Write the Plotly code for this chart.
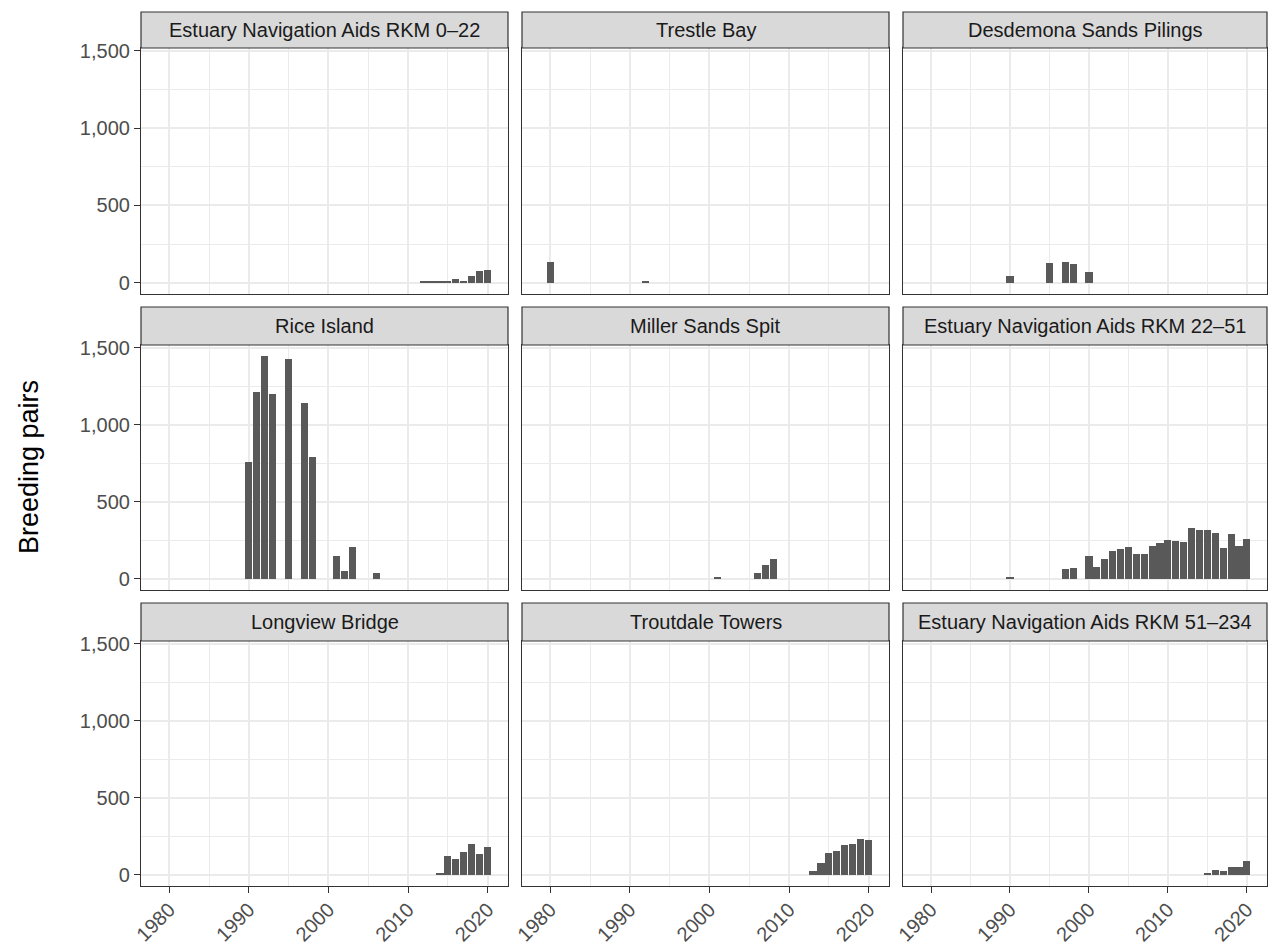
import plotly.graph_objects as go

# ---------------- data (breeding pairs by year) ----------------
site_names = [
    "Estuary Navigation Aids RKM 0–22", "Trestle Bay", "Desdemona Sands Pilings",
    "Rice Island", "Miller Sands Spit", "Estuary Navigation Aids RKM 22–51",
    "Longview Bridge", "Troutdale Towers", "Estuary Navigation Aids RKM 51–234",
]

rkm0_22_years = [2012, 2013, 2014, 2015, 2016, 2017, 2018, 2019, 2020]
rkm0_22_pairs = [12, 10, 6, 6, 22, 9, 42, 75, 85]

trestle_years = [1980, 1992]
trestle_pairs = [134, 15]

desdemona_years = [1990, 1995, 1997, 1998, 2000]
desdemona_pairs = [43, 127, 134, 123, 67]

rice_years = [1990, 1991, 1992, 1993, 1995, 1997, 1998, 2001, 2002, 2003, 2006]
rice_pairs = [758, 1212, 1446, 1199, 1426, 1141, 792, 147, 52, 210, 35]

miller_years = [2001, 2006, 2007, 2008]
miller_pairs = [11, 41, 89, 128]

rkm22_51_years = [1990, 1997, 1998, 2000, 2001, 2002, 2003, 2004, 2005, 2006, 2007, 2008,
                  2009, 2010, 2011, 2012, 2013, 2014, 2015, 2016, 2017, 2018, 2019, 2020]
rkm22_51_pairs = [15, 61, 69, 147, 74, 128, 180, 193, 206, 160, 160, 212,
                  232, 251, 245, 242, 329, 316, 316, 297, 199, 292, 216, 258]

longview_years = [2014, 2015, 2016, 2017, 2018, 2019, 2020]
longview_pairs = [9, 121, 102, 147, 199, 138, 184]

troutdale_years = [2013, 2014, 2015, 2016, 2017, 2018, 2019, 2020]
troutdale_pairs = [26, 80, 143, 154, 195, 201, 236, 229]

rkm51_234_years = [2015, 2016, 2017, 2018, 2019, 2020]
rkm51_234_pairs = [9, 32, 22, 54, 54, 91]

x_tick_vals = [1980, 1990, 2000, 2010, 2020]
y_tick_vals = [0, 500, 1000, 1500]
y_tick_text = ["0", "500", "1,000", "1,500"]

series = [
    (rkm0_22_years, rkm0_22_pairs), (trestle_years, trestle_pairs),
    (desdemona_years, desdemona_pairs), (rice_years, rice_pairs),
    (miller_years, miller_pairs), (rkm22_51_years, rkm22_51_pairs),
    (longview_years, longview_pairs), (troutdale_years, troutdale_pairs),
    (rkm51_234_years, rkm51_234_pairs),
]

# ---------------- layout geometry (pixels) ----------------
W, H = 1268, 944
col_px = [(141, 508), (522, 889), (903, 1267)]
row_px = [(12, 48, 294), (307, 345, 590), (603, 641, 886)]  # strip top, plot top, plot bottom

FONT = "Liberation Sans, Arial, sans-serif"
BORDER = "#333333"
GRID = "#EBEBEB"
TICK_SIZE = 20

fig = go.Figure()
layout = {}
shapes = []
annotations = []

for i, (yrs, vals) in enumerate(series):
    r, c = divmod(i, 3)
    k = i + 1
    sfx = "" if k == 1 else str(k)
    fig.add_trace(go.Bar(
        x=yrs, y=vals, width=0.9, marker=dict(color="#595959", line=dict(width=0)),
        xaxis="x" + sfx, yaxis="y" + sfx, showlegend=False,
        hovertemplate="%{x}: %{y}<extra></extra>",
    ))
    x0, x1 = col_px[c]
    st, pt, pb = row_px[r]
    layout["xaxis" + sfx] = dict(
        domain=[x0 / W, x1 / W], anchor="y" + sfx, range=[1976.45, 2022.55],
        tickvals=x_tick_vals, ticktext=[str(v) for v in x_tick_vals],
        showticklabels=(r == 2), ticks="outside" if r == 2 else "",
        ticklen=6, tickwidth=1.2, tickcolor=BORDER, tickangle=-45,
        ticklabelstandoff=-3,
        tickfont=dict(family=FONT, size=TICK_SIZE, color="#4D4D4D"),
        showgrid=True, gridcolor=GRID, gridwidth=2,
        minor=dict(dtick=5, tick0=1975, showgrid=True, gridcolor=GRID, gridwidth=1, ticks=""),
        showline=True, mirror=True, linecolor=BORDER, linewidth=1.2,
        zeroline=False, fixedrange=True, automargin=False,
    )
    layout["yaxis" + sfx] = dict(
        domain=[1 - pb / H, 1 - pt / H], anchor="x" + sfx, range=[-72.3, 1518.3],
        tickvals=y_tick_vals, ticktext=y_tick_text,
        showticklabels=(c == 0), ticks="outside" if c == 0 else "",
        ticklen=6, tickwidth=1.2, tickcolor=BORDER,
        tickfont=dict(family=FONT, size=TICK_SIZE, color="#4D4D4D"),
        showgrid=True, gridcolor=GRID, gridwidth=2,
        minor=dict(dtick=250, tick0=0, showgrid=True, gridcolor=GRID, gridwidth=1, ticks=""),
        showline=True, mirror=True, linecolor=BORDER, linewidth=1.2,
        zeroline=False, fixedrange=True, automargin=False,
    )
    # strip
    shapes.append(dict(type="rect", xref="paper", yref="paper",
                       x0=x0 / W, x1=x1 / W, y0=1 - pt / H, y1=1 - st / H,
                       fillcolor="#D9D9D9", line=dict(color=BORDER, width=1.2), layer="above"))
    annotations.append(dict(text=site_names[i], xref="paper", yref="paper",
                            x=(x0 + x1) / 2 / W, y=1 - (st + pt) / 2 / H,
                            xanchor="center", yanchor="middle", showarrow=False,
                            font=dict(family=FONT, size=TICK_SIZE, color="#1A1A1A")))

annotations.append(dict(text="Breeding pairs", xref="paper", yref="paper",
                        x=29 / W, y=1 - 467 / H, textangle=-90,
                        xanchor="center", yanchor="middle", showarrow=False,
                        font=dict(family=FONT, size=27, color="#000000")))

fig.update_layout(
    width=W, height=H, margin=dict(l=0, r=0, t=0, b=0, autoexpand=False),
    paper_bgcolor="white", plot_bgcolor="white",
    shapes=shapes, annotations=annotations, bargap=0,
    font=dict(family=FONT),
    **layout,
)

fig.write_html(
    "out.html",
    config={"displayModeBar": False},
    post_script="document.body.style.margin='0';document.body.style.overflow='hidden';",
)
